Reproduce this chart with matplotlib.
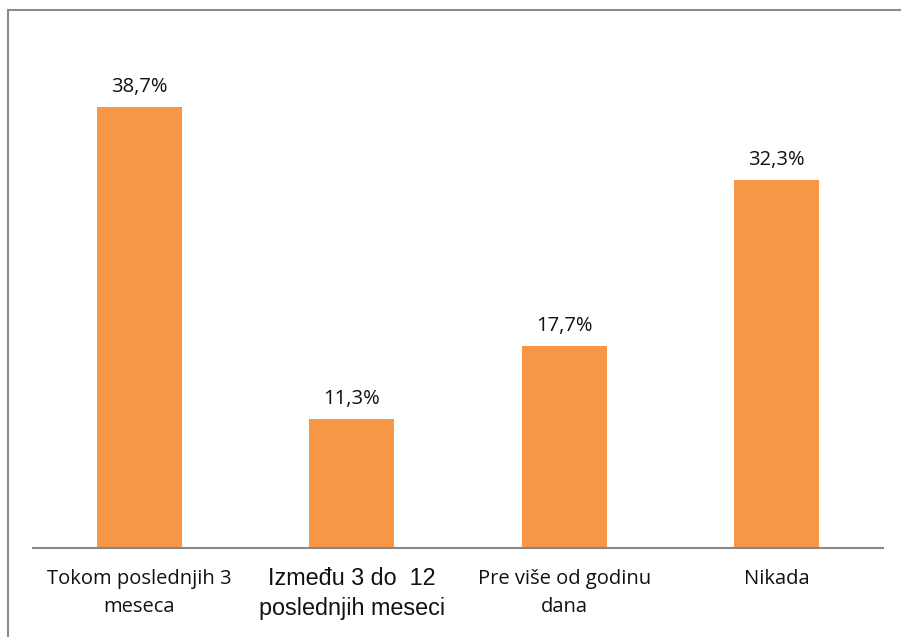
import matplotlib.pyplot as plt
from matplotlib.lines import Line2D

categories = ['Tokom poslednjih 3\nmeseca', 'Između 3 do  12\nposlednjih meseci',
              'Pre više od godinu\ndana', 'Nikada']
values = [38.7, 11.3, 17.7, 32.3]
value_labels = ['38,7%', '11,3%', '17,7%', '32,3%']

fig = plt.figure(figsize=(9.01, 6.37), dpi=100)
ax = fig.add_axes([33 / 901, 89 / 637, 850 / 901, 513 / 637])

x = range(len(values))
bars = ax.bar(x, values, width=0.4, color='#F79646')
ax.set_xlim(-0.5, 3.5)
ax.set_ylim(0, 45)

for i, (v, lab) in enumerate(zip(values, value_labels)):
    ax.annotate(lab, (i, v), xytext=(0, 7), textcoords='offset points',
                ha='center', va='bottom', fontsize=14.5, family='Open Sans', color='#111111')

for side in ['top', 'right', 'left']:
    ax.spines[side].set_visible(False)
ax.spines['bottom'].set_color('#888888')
ax.spines['bottom'].set_linewidth(1.5)
ax.set_yticks([])
ax.set_xticks(list(x))
ax.set_xticklabels([])
ax.tick_params(axis='x', length=0)

fonts = ['Open Sans', 'Liberation Sans', 'Open Sans', 'Open Sans']
sizes = [14.5, 16.8, 14.5, 14.5]
offsets = [-1.85, -1.7, -1.85, -1.85]
for i, (c, f, s, off) in enumerate(zip(categories, fonts, sizes, offsets)):
    ax.text(i, off, c, ha='center', va='top', fontsize=s, family=f,
            color='#111111', linespacing=1.55 if f == 'Open Sans' else 1.35)

# outer frame of the chart area (cut off on right and bottom)
fig.add_artist(Line2D([8 / 901, 8 / 901], [0, 1 - 10 / 637], transform=fig.transFigure,
                      color='#8c8c8c', lw=1.5))
fig.add_artist(Line2D([8 / 901, 1], [1 - 10 / 637, 1 - 10 / 637], transform=fig.transFigure,
                      color='#8c8c8c', lw=1.5))

fig.savefig('out.png', dpi=100)
